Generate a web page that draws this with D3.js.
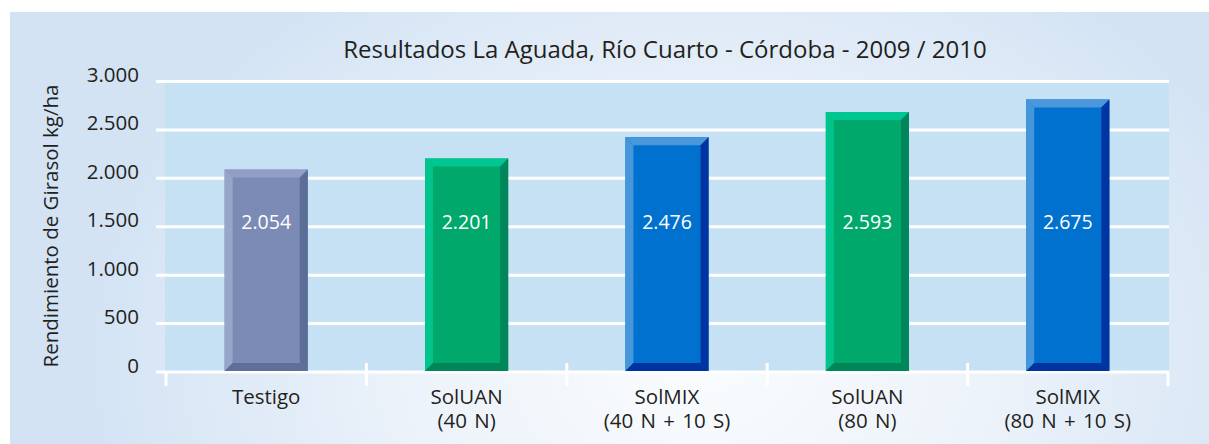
<!DOCTYPE html>
<html><head><meta charset="utf-8">
<script src="https://cdn.jsdelivr.net/npm/d3@7"></script>
<style>
html,body{margin:0;padding:0;background:#fff;}
svg{display:block;}
text{font-family:"Open Sans","Noto Sans",sans-serif;fill:#231F20;}
</style></head><body>
<svg id="c" width="1209" height="444"></svg>
<script>
// ---- data ----
const categories = [["Testigo"], ["SolUAN", "(40 N)"], ["SolMIX", "(40 N + 10 S)"], ["SolUAN", "(80 N)"], ["SolMIX", "(80 N + 10 S)"]];
const yields = [2054, 2201, 2476, 2593, 2675];          // printed values
const barHeights = [2090, 2205, 2425, 2685, 2815];      // bar heights as drawn in the picture
const colorKeys = ["gray", "green", "blue", "green", "blue"];
const yTicks = [0, 500, 1000, 1500, 2000, 2500, 3000];
const title = "Resultados La Aguada, Río Cuarto - Córdoba - 2009 / 2010";
const yLabel = "Rendimiento de Girasol kg/ha";

const palettes = {
  gray:  {main:"#7B8BB6", top:"#919FC6", left:"#97A5C9", right:"#5B6E98", bottom:"#5E6F99"},
  green: {main:"#00A96B", top:"#00C791", left:"#00C48C", right:"#00865A", bottom:"#008658"},
  blue:  {main:"#0071CE", top:"#4A98DB", left:"#4696DC", right:"#0034A0", bottom:"#0033A0"}
};

const loc = d3.formatLocale({decimal:",", thousands:".", grouping:[3], currency:["",""]});
const fmt = loc.format(",d");

const svg = d3.select("#c");
const defs = svg.append("defs");
const rg = defs.append("radialGradient").attr("id","bg")
  .attr("gradientUnits","userSpaceOnUse").attr("cx",700).attr("cy",360).attr("r",620)
  .attr("gradientTransform","translate(700,360) scale(1,0.75) translate(-700,-360)");
rg.append("stop").attr("offset","0").attr("stop-color","#FAFCFE");
rg.append("stop").attr("offset","0.45").attr("stop-color","#EDF3FA");
rg.append("stop").attr("offset","1").attr("stop-color","#D3E3F4");

svg.append("rect").attr("x",10).attr("y",12).attr("width",1199).attr("height",432).attr("fill","url(#bg)");

const plot = {left:165, right:1169, top:83, bottom:372};
const x = d3.scaleBand().domain(d3.range(categories.length)).range([166,1168]).paddingInner(0.585).paddingOuter(0.2925);
const y = d3.scaleLinear().domain([0,3000]).range([plot.bottom, 81.5]);

// plot background
svg.append("rect").attr("x",plot.left).attr("y",plot.top).attr("width",plot.right-plot.left).attr("height",plot.bottom-plot.top).attr("fill","#C6E1F4");

// gridlines
svg.append("g").selectAll("line").data(yTicks).join("line")
  .attr("x1",156).attr("x2",plot.right).attr("y1",d=>y(d)).attr("y2",d=>y(d))
  .attr("stroke","#fff").attr("stroke-width",3);

// y tick labels
svg.append("g").selectAll("text").data(yTicks).join("text")
  .attr("x",139).attr("y",d=>y(d)+0.5).attr("text-anchor","end").attr("font-size",20.5)
  .text(d=>fmt(d));

// category ticks
const bounds = d3.range(categories.length+1).map(i => 166 + i*(1168-166)/categories.length);
svg.append("g").selectAll("line").data(bounds).join("line")
  .attr("x1",d=>d).attr("x2",d=>d).attr("y1",(d,i)=> (i===0||i===bounds.length-1)?372:363).attr("y2",386)
  .attr("stroke","#fff").attr("stroke-width",3);

// bars with bevel
const b = 8;
const bars = svg.append("g").selectAll("g").data(barHeights).join("g");
bars.each(function(v,i){
  const g = d3.select(this);
  const p = palettes[colorKeys[i]];
  const x0 = x(i), x1 = x(i)+x.bandwidth(), y0 = y(v), y1 = y(0)-1;
  g.append("rect").attr("x",x0).attr("y",y0).attr("width",x1-x0).attr("height",y1-y0).attr("fill",p.main);
  const poly = (pts,c)=>g.append("polygon").attr("points",pts.map(q=>q.join(",")).join(" ")).attr("fill",c);
  poly([[x0,y0],[x1,y0],[x1-b,y0+b],[x0+b,y0+b]], p.top);
  poly([[x0,y0],[x0+b,y0+b],[x0+b,y1-b],[x0,y1]], p.left);
  poly([[x1,y0],[x1,y1],[x1-b,y1-b],[x1-b,y0+b]], p.right);
  poly([[x0,y1],[x1,y1],[x1-b,y1-b],[x0+b,y1-b]], p.bottom);
  g.append("text").attr("x",x0+(x1-x0)/2).attr("y",229).attr("text-anchor","middle")
    .attr("font-size",19.5).style("fill","#fff").text(fmt(yields[i]));
});

// category labels (one text per line)
const cg = svg.append("g");
categories.forEach((lines,i)=>{
  lines.forEach((s,k)=>{
    cg.append("text").attr("x",x(i)+x.bandwidth()/2).attr("y",404+k*24)
      .attr("text-anchor","middle").attr("font-size",20.5).attr("word-spacing",2).text(s);
  });
});

// title
svg.append("text").attr("x",665).attr("y",57.5).attr("text-anchor","middle").attr("font-size",24).text(title);

// y label
svg.append("text").attr("transform","translate(58,226) rotate(-90)").attr("text-anchor","middle").attr("font-size",20.5).text(yLabel);
</script>
</body></html>
